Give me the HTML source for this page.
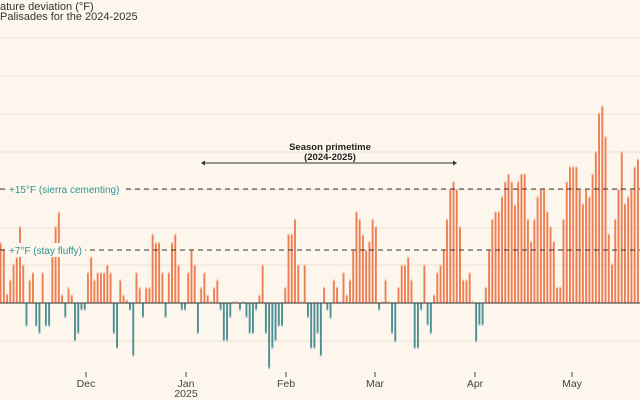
<!DOCTYPE html>
<html><head><meta charset="utf-8"><style>
html,body{margin:0;padding:0;background:#fdf6ec;}
svg{display:block;font-family:"Liberation Sans","DejaVu Sans",sans-serif;}
</style></head><body>
<svg id="c" width="640" height="400" viewBox="0 0 640 400" xmlns="http://www.w3.org/2000/svg">
<rect width="640" height="400" fill="#fdf6ec"/>
<g stroke="#ebe2d4" stroke-width="1">
<line x1="0" x2="640" y1="38" y2="38"/><line x1="0" x2="640" y1="76" y2="76"/>
<line x1="0" x2="640" y1="114" y2="114"/><line x1="0" x2="640" y1="152" y2="152"/>
<line x1="0" x2="640" y1="190" y2="190"/><line x1="0" x2="640" y1="228" y2="228"/>
<line x1="0" x2="640" y1="265" y2="265"/><line x1="0" x2="640" y1="341" y2="341"/>
</g>
<text x="0" y="10" font-size="11" fill="#333">ature deviation (°F)</text>
<text x="0" y="20" font-size="11" fill="#333">Palisades for the 2024-2025</text>
<g id="bars"></g>
<line x1="0" x2="640" y1="303" y2="303" stroke="#333" stroke-width="1"/>
<g stroke="#333" stroke-width="1" stroke-dasharray="5,4">
<line x1="0" x2="640" y1="189" y2="189"/><line x1="0" x2="640" y1="250" y2="250"/>
</g>
<rect x="7" y="182" width="118" height="14" fill="#fdf6ec"/>
<rect x="7" y="243" width="78" height="14" fill="#fdf6ec"/>
<text x="9" y="193" font-size="10" fill="#2f9490">+15°F (sierra cementing)</text>
<text x="9" y="254" font-size="10" fill="#2f9490">+7°F (stay fluffy)</text>
<text x="330" y="150" font-size="9.5" font-weight="bold" fill="#222" text-anchor="middle">Season primetime</text>
<text x="330" y="160" font-size="9.5" font-weight="bold" fill="#222" text-anchor="middle">(2024-2025)</text>
<line x1="202" x2="456" y1="163" y2="163" stroke="#333" stroke-width="1"/>
<path d="M201 163 l4 -2.5 v5z M457 163 l-4 -2.5 v5z" fill="#333"/>
<g stroke="#444" stroke-width="1">
<line x1="86" x2="86" y1="372" y2="377"/><line x1="186" x2="186" y1="372" y2="377"/>
<line x1="286" x2="286" y1="372" y2="377"/><line x1="375" x2="375" y1="372" y2="377"/>
<line x1="475" x2="475" y1="372" y2="377"/><line x1="572" x2="572" y1="372" y2="377"/>
</g>
<g font-size="10.5" fill="#444" text-anchor="middle">
<text x="86" y="387">Dec</text><text x="186" y="387">Jan</text><text x="186" y="397">2025</text>
<text x="286" y="387">Feb</text><text x="375" y="387">Mar</text><text x="475" y="387">Apr</text><text x="572" y="387">May</text>
</g>
</svg>
<script>
var A=[128,148,283,240,193,172,80,195,378,240,218,378,400,218,378,378,128,80,37,285,352,263,285,422,400,330,330,218,172,240,218,218,218,195,218,400,445,240,285,300,330,467,218,263,352,263,263,103,128,128].map(v=>200+v/3);
var B=[218,352,218,128,103,195,330,330,218,150,195,400,263,218,285,305,263,240,330,422,422,352,310,310,330,310,352,400,400,330,285,195,400,505,445,422,378,378,263,103,103,58,195,305,195,352,445,445,400,467].map(v=>200+v/3);
var C=[352,420,445,330,352,398,308,375,330,240,125,148,195,240,215,148,170,420,398,330,398,490,515,352,285,285,262,330,535,535,420,285,465,490,375,308,285,240,148,58,35,58,170,330,330,308,398,515,465,465].map(v=>170+v/3);
var D=[562,450,358,335,335,290,245,222,245,315,245,222,222,358,425,358,290,268,268,335,380,425,562,562,358,245,200,200,200,268,312,268,290,222,155,40,18,110,402,492,358,268,155,312,290,268,200,178,132,140].map(v=>100+v/3);
var all=A.concat(B,C,D),z=303,s="",p=3.235;
all.forEach(function(y,i){var x=(0.6+i*p).toFixed(2);if(Math.abs(y-z)<1.2){y=z-1.2;}
var pos=y<z,col=pos?"#ee7d52":"#4d8f95";
s+='<line x1="'+x+'" x2="'+x+'" y1="'+z+'" y2="'+y.toFixed(1)+'" stroke="'+col+'" stroke-width="1.9"/>';
s+='<circle cx="'+x+'" cy="'+y.toFixed(1)+'" r="1" fill="'+(pos?"#f7c9b4":"#a9cbd0")+'"/>';});
document.getElementById("bars").innerHTML=s;
</script>
</body></html>
